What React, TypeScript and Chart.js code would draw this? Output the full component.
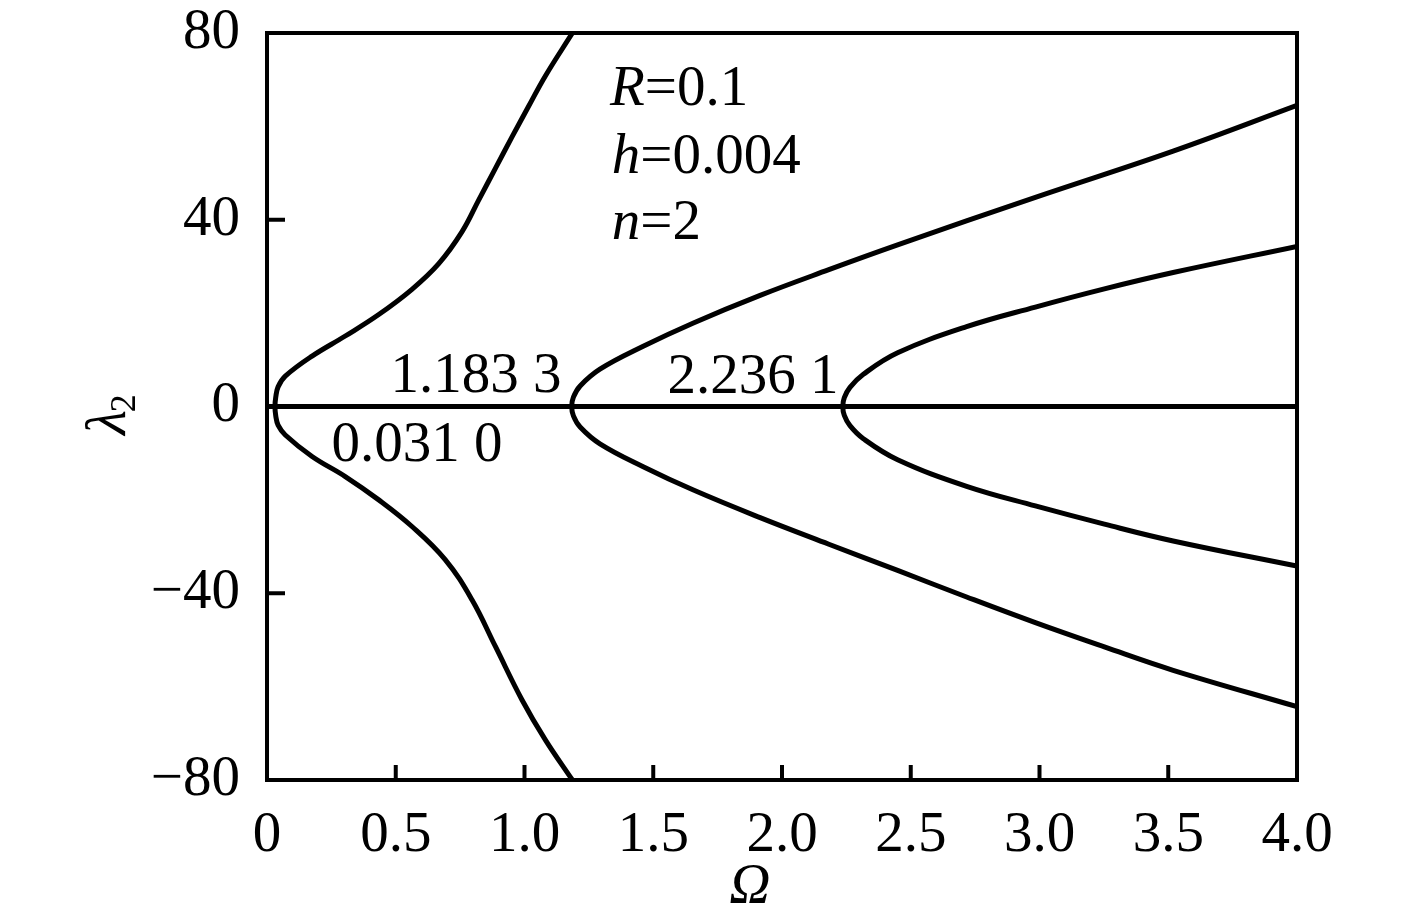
import { useEffect, useRef } from 'react';
import { Chart, registerables } from 'chart.js';

Chart.register(...registerables);

const FONT = '"Liberation Serif", "Times New Roman", serif';

// Axis ranges / ticks
const omegaMin = 0;
const omegaMax = 4;
const omegaStep = 0.5;
const lambdaMin = -80;
const lambdaMax = 80;
const lambdaStep = 40;

// Branch 1 (bifurcation at Ω = 0.0310)
const b1UpperOmega = [0.031, 0.034, 0.043, 0.071, 0.175, 0.304, 0.434, 0.563, 0.667, 0.757, 0.822, 0.887, 0.951, 1.016, 1.081, 1.186];
const b1UpperLambda = [0, 2.0, 4.2, 6.5, 10.8, 15.1, 19.7, 25.1, 30.6, 37.4, 44.2, 51.0, 57.7, 64.3, 70.8, 80];
const b1LowerOmega = [0.031, 0.034, 0.043, 0.071, 0.175, 0.304, 0.434, 0.563, 0.692, 0.796, 0.887, 0.990, 1.081, 1.186];
const b1LowerLambda = [0, -2.0, -4.0, -6.1, -10.7, -15.0, -20.0, -25.7, -32.8, -41.4, -51.4, -62.8, -71.4, -80];

// Branch 2 (bifurcation at Ω = 1.1833)
const b2UpperOmega = [1.1833, 1.19, 1.216, 1.293, 1.461, 1.656, 1.915, 2.182, 2.449, 2.984, 3.519, 4.0];
const b2UpperLambda = [0, 2.0, 4.4, 8.0, 12.9, 17.9, 23.8, 29.3, 34.6, 44.8, 54.7, 64.5];
const b2LowerOmega = [1.1833, 1.19, 1.216, 1.293, 1.461, 1.656, 1.915, 2.182, 2.449, 2.717, 2.984, 3.252, 3.519, 4.0];
const b2LowerLambda = [0, -2.0, -4.4, -8.0, -12.9, -17.9, -23.8, -29.5, -35.1, -40.8, -46.3, -51.5, -56.5, -64.3];

// Branch 3 (bifurcation at Ω = 2.2361)
const b3UpperOmega = [2.2361, 2.242, 2.264, 2.316, 2.449, 2.717, 2.984, 3.252, 3.519, 4.0];
const b3UpperLambda = [0, 1.9, 4.1, 6.9, 11.5, 17.1, 21.3, 25.2, 28.7, 34.3];
const b3LowerOmega = [2.2361, 2.242, 2.264, 2.316, 2.449, 2.717, 2.984, 3.252, 3.519, 4.0];
const b3LowerLambda = [0, -1.9, -4.1, -6.9, -11.4, -17.1, -21.3, -25.2, -28.8, -34.2];

// Zero branch
const zeroOmega = [0, 4];
const zeroLambda = [0, 0];

// Annotations
const paramVars = ['R', 'h', 'n'];
const paramVals = ['=0.1', '=0.004', '=2'];
const paramOmega = [1.332, 1.339, 1.339];
const paramLambda = [64.6, 50.1, 35.8];

const bifLabels = ['1.183 3', '2.236 1', '0.031 0'];
const bifOmega = [0.48, 1.555, 0.25];
const bifLambda = [3.2, 2.9, -11.7];

const xTitle = 'Ω';
const yTitleMain = 'λ';
const yTitleSub = '2';

function toPoints(xs: number[], ys: number[]) {
  return xs.map((x, i) => ({ x, y: ys[i] }));
}

function branch(uo: number[], ul: number[], lo: number[], ll: number[]) {
  const up = toPoints(uo, ul).reverse();
  const low = toPoints(lo, ll).slice(1);
  return up.concat(low);
}

const overlayPlugin = {
  id: 'overlay',
  afterDatasetsDraw(chart: any) {
    const { ctx, chartArea, scales } = chart;
    const { left, right, top, bottom } = chartArea;
    const x = scales.x;
    const y = scales.y;
    ctx.save();
    ctx.strokeStyle = '#000';
    ctx.fillStyle = '#000';
    ctx.lineWidth = 4;
    ctx.strokeRect(left, top, right - left, bottom - top);

    // inward ticks
    ctx.lineWidth = 4;
    for (let v = omegaMin + omegaStep; v < omegaMax - 1e-9; v += omegaStep) {
      const px = x.getPixelForValue(v);
      ctx.beginPath();
      ctx.moveTo(px, bottom);
      ctx.lineTo(px, bottom - 15);
      ctx.stroke();
    }
    for (let v = lambdaMin + lambdaStep; v < lambdaMax - 1e-9; v += lambdaStep) {
      if (Math.abs(v) < 1e-9) continue;
      const py = y.getPixelForValue(v);
      ctx.beginPath();
      ctx.moveTo(left, py);
      ctx.lineTo(left + 18, py);
      ctx.stroke();
    }

    ctx.textBaseline = 'alphabetic';
    ctx.textAlign = 'left';
    const size = 57;
    // parameter labels
    for (let i = 0; i < paramVars.length; i++) {
      const px = x.getPixelForValue(paramOmega[i]);
      const py = y.getPixelForValue(paramLambda[i]);
      ctx.font = `italic ${size}px ${FONT}`;
      ctx.fillText(paramVars[i], px, py);
      const w = ctx.measureText(paramVars[i]).width;
      ctx.font = `${size}px ${FONT}`;
      ctx.fillText(paramVals[i], px + w, py);
    }
    // bifurcation labels
    ctx.font = `${size}px ${FONT}`;
    for (let i = 0; i < bifLabels.length; i++) {
      ctx.fillText(bifLabels[i], x.getPixelForValue(bifOmega[i]), y.getPixelForValue(bifLambda[i]));
    }

    // x title
    ctx.font = `italic ${size}px ${FONT}`;
    ctx.textAlign = 'center';
    ctx.fillText(xTitle, x.getPixelForValue(1.875), bottom + 123);

    // y title, rotated
    ctx.save();
    ctx.translate(left - 142, (top + bottom) / 2 + 7);
    ctx.rotate(-Math.PI / 2);
    ctx.textAlign = 'left';
    ctx.font = `italic ${size}px ${FONT}`;
    const wl = ctx.measureText(yTitleMain).width;
    ctx.font = `${36}px ${FONT}`;
    const ws = ctx.measureText(yTitleSub).width;
    const total = wl + ws;
    ctx.font = `italic ${size}px ${FONT}`;
    ctx.fillText(yTitleMain, -total / 2, 0);
    ctx.font = `${36}px ${FONT}`;
    ctx.fillText(yTitleSub, -total / 2 + wl - 2, 10);
    ctx.restore();

    ctx.restore();
  },
};

export default function App() {
  const canvasRef = useRef<HTMLCanvasElement | null>(null);

  useEffect(() => {
    const canvas = canvasRef.current;
    if (!canvas) return;
    const lineStyle = {
      borderColor: '#000',
      borderWidth: 5,
      pointRadius: 0,
      showLine: true,
      tension: 0.4,
      fill: false,
    };
    const chart = new Chart(canvas, {
      type: 'scatter',
      data: {
        datasets: [
          { ...lineStyle, data: toPoints(zeroOmega, zeroLambda), borderWidth: 5, tension: 0 },
          { ...lineStyle, data: branch(b1UpperOmega, b1UpperLambda, b1LowerOmega, b1LowerLambda) },
          { ...lineStyle, data: branch(b2UpperOmega, b2UpperLambda, b2LowerOmega, b2LowerLambda) },
          { ...lineStyle, data: branch(b3UpperOmega, b3UpperLambda, b3LowerOmega, b3LowerLambda) },
        ],
      },
      options: {
        animation: false,
        responsive: true,
        maintainAspectRatio: false,
        layout: { padding: { top: 33, right: 120, left: 0, bottom: 0 } },
        plugins: {
          legend: { display: false },
          tooltip: { enabled: false },
        },
        scales: {
          x: {
            type: 'linear',
            min: omegaMin,
            max: omegaMax,
            grid: { display: false, drawTicks: false },
            border: { display: false },
            ticks: {
              stepSize: omegaStep,
              color: '#000',
              padding: 22,
              maxRotation: 0,
              autoSkip: false,
              font: { family: FONT, size: 57 },
              callback: (v: any) => (Number(v) === 0 ? '0' : Number(v).toFixed(1)),
            },
            afterFit: (scale: any) => {
              scale.height = 141;
              scale.paddingLeft = 0;
              scale.paddingRight = 0;
            },
          },
          y: {
            type: 'linear',
            min: lambdaMin,
            max: lambdaMax,
            grid: { display: false, drawTicks: false },
            border: { display: false },
            ticks: {
              stepSize: lambdaStep,
              color: '#000',
              padding: 27,
              autoSkip: false,
              font: { family: FONT, size: 57 },
              callback: (v: any) => (Number(v) < 0 ? '\u2212' + Math.abs(Number(v)) : String(v)),
            },
            afterFit: (scale: any) => {
              scale.width = 267;
              scale.paddingTop = 0;
              scale.paddingBottom = 0;
            },
          },
        },
      },
      plugins: [overlayPlugin],
    });
    return () => chart.destroy();
  }, []);

  return (
    <div style={{ position: 'fixed', left: 0, top: 0, width: 1417, height: 921, background: '#fff' }}>
      <canvas ref={canvasRef} />
    </div>
  );
}
